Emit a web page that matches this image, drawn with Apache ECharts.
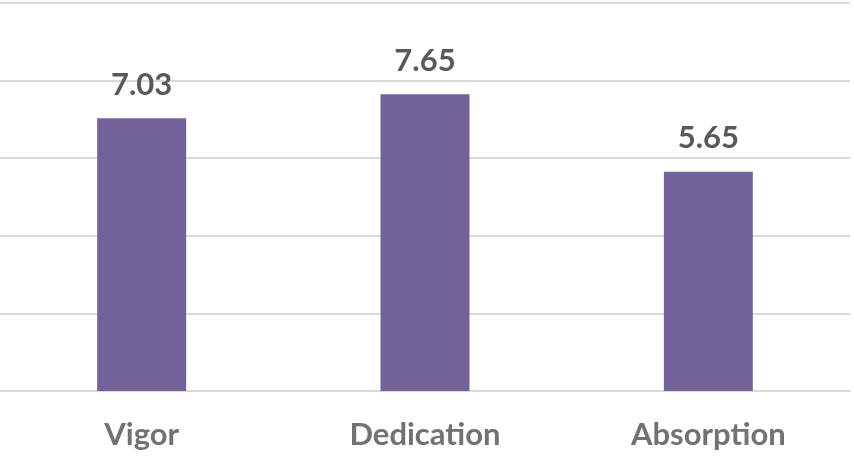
<!DOCTYPE html>
<html>
<head>
<meta charset="utf-8">
<script src="https://cdn.jsdelivr.net/npm/echarts@6/dist/echarts.min.js"></script>
<style>
  html, body { margin: 0; padding: 0; background: #fff; }
  #chart { width: 854px; height: 458px; }
</style>
</head>
<body>
<div id="chart"></div>
<script>
var categories = ["Vigor", "Dedication", "Absorption"];
var scores = [7.03, 7.65, 5.65];

var myChart = echarts.init(document.getElementById("chart"));
myChart.setOption({
  animation: false,
  grid: { left: 0, right: 4, top: 3, bottom: 67 },
  xAxis: {
    type: "category",
    data: categories,
    axisTick: { show: false },
    axisLine: { lineStyle: { color: "#d9d9d9", width: 2 } },
    axisLabel: {
      margin: 28,
      color: "#757171",
      fontFamily: "Lato",
      fontWeight: "bold",
      fontSize: 31
    }
  },
  yAxis: {
    type: "value",
    min: 0,
    max: 10,
    interval: 2,
    axisLabel: { show: false },
    splitLine: { lineStyle: { color: "#d9d9d9", width: 2 } }
  },
  series: [
    {
      type: "bar",
      data: scores,
      barWidth: "31.4%",
      itemStyle: { color: "#72629a" },
      label: {
        show: true,
        position: "top",
        distance: 18,
        color: "#595959",
        fontFamily: "Lato",
        fontWeight: "bold",
        fontSize: 31
      }
    }
  ]
});
</script>
</body>
</html>
